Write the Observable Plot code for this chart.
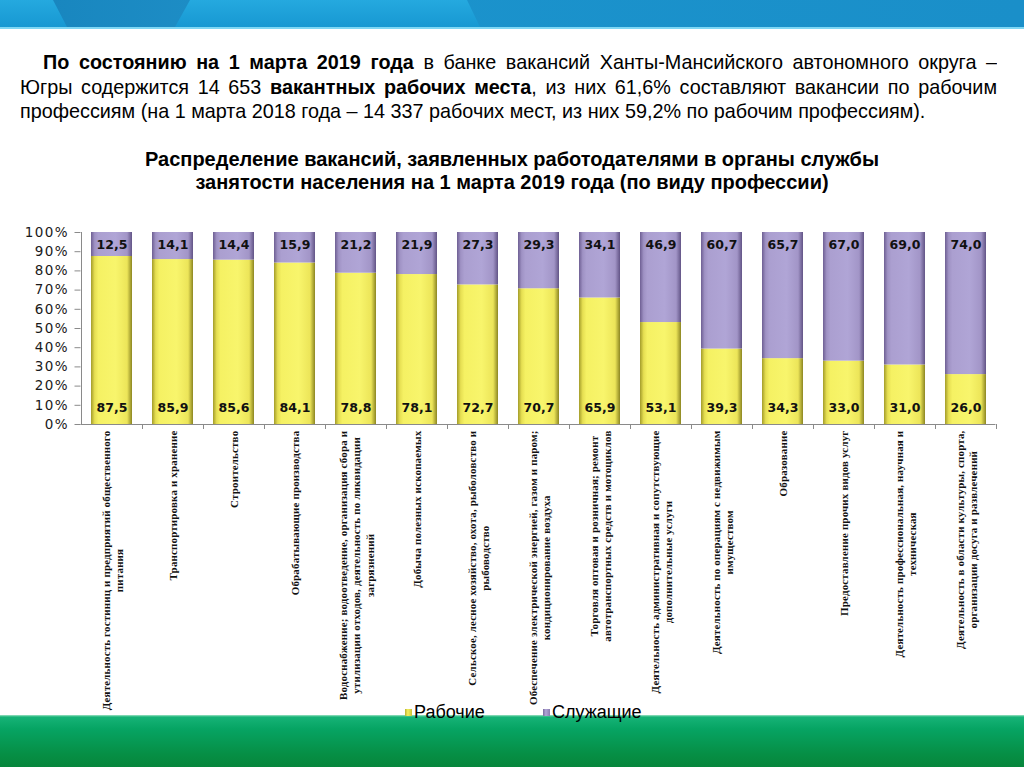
<!DOCTYPE html>
<html><head><meta charset="utf-8">
<script src="https://cdn.jsdelivr.net/npm/d3@7"></script>
<script src="https://cdn.jsdelivr.net/npm/@observablehq/plot@0.6"></script>
<style>
html,body{margin:0;padding:0;width:1024px;height:767px;overflow:hidden;background:#fff;font-family:"Liberation Sans",Arial,sans-serif;color:#000;}
.abs{position:absolute;}
#band{left:0;top:0;width:1024px;height:27px;background:linear-gradient(to bottom,#25a9df,#1798d2);}
#f1{left:0;top:0;width:1024px;height:27px;clip-path:polygon(53px 0,190px 0,175px 27px,67px 27px);background:linear-gradient(90deg,#1784bd,#2599d0 45%,#4bbde9);}
#f2{left:0;top:0;width:1024px;height:27px;clip-path:polygon(467px 0,1024px 0,1024px 27px,480px 27px);background:linear-gradient(90deg,#1b95ce,#1a8fc9);}
#bline{left:0;top:27px;width:1024px;height:2px;background:#7fd7f4;}
#green{left:0;top:715px;width:1024px;height:52px;background:linear-gradient(to bottom,#9fe3c4 0px,#16b377 2px,#06a463 14px,#068e44 40px,#07863c 52px);}
.pl{left:20px;width:977px;height:24px;line-height:24px;font-size:19.8px;white-space:nowrap;}
.just{text-align:justify;text-align-last:justify;white-space:normal;overflow:hidden;}
.tl{left:0;width:1024px;text-align:center;font-weight:bold;font-size:20px;height:23px;line-height:23px;}
#chart{left:0;top:200px;}
#legend{left:0;top:701px;width:1024px;height:22px;}
.lg{position:absolute;top:0;font-size:18px;line-height:22px;}
.sw{position:absolute;top:8px;width:7px;height:7px;}
#chart g[aria-label="y-axis tick label"] text{letter-spacing:1.4px;}
#chart text.catlab{letter-spacing:0.15px;}
</style></head><body>
<div id="band" class="abs"></div>
<div id="f1" class="abs"></div>
<div id="f2" class="abs"></div>
<div id="bline" class="abs"></div>

<div class="abs pl just" style="top:50px;left:43px;width:954px;"><b>По состоянию на 1 марта 2019 года</b> в банке вакансий Ханты-Мансийского автономного округа –</div>
<div class="abs pl just" style="top:75px;">Югры содержится 14 653 <b>вакантных рабочих места</b>, из них 61,6% составляют вакансии по рабочим</div>
<div class="abs pl" style="top:99px;">профессиям (на 1 марта 2018 года – 14 337 рабочих мест, из них 59,2% по рабочим профессиям).</div>

<div class="abs tl" style="top:148px;">Распределение вакансий, заявленных работодателями в органы службы</div>
<div class="abs tl" style="top:171px;">занятости населения на 1 марта 2019 года (по виду профессии)</div>

<div id="chart" class="abs"></div>
<div id="green" class="abs"></div>
<div id="legend" class="abs">
  <div class="sw" style="left:405px;background:linear-gradient(90deg,#b8b034,#f4ef5e 40%,#c9c23a);"></div>
  <div class="lg" style="left:414px;">Рабочие</div>
  <div class="sw" style="left:543px;background:linear-gradient(90deg,#7a6b9f,#b0a5d6 40%,#8a7cb0);"></div>
  <div class="lg" style="left:552px;">Служащие</div>
</div>

<script>
const categories = [
  "Деятельность гостиниц и предприятий общественного\nпитания",
  "Транспортировка и хранение",
  "Строительство",
  "Обрабатывающие производства",
  "Водоснабжение; водоотведение, организация сбора и\nутилизации отходов, деятельность по ликвидации\nзагрязнений",
  "Добыча полезных ископаемых",
  "Сельское, лесное хозяйство, охота, рыболовство и\nрыбоводство",
  "Обеспечение электрической энергией, газом и паром;\nкондиционирование воздуха",
  "Торговля оптовая и розничная; ремонт\nавтотранспортных средств и мотоциклов",
  "Деятельность административная и сопутствующие\nдополнительные услуги",
  "Деятельность по операциям с недвижимым\nимуществом",
  "Образование",
  "Предоставление прочих видов услуг",
  "Деятельность профессиональная, научная и\nтехническая",
  "Деятельность в области культуры, спорта,\nорганизации досуга и развлечений"
];
const workers   = [87.5, 85.9, 85.6, 84.1, 78.8, 78.1, 72.7, 70.7, 65.9, 53.1, 39.3, 34.3, 33.0, 31.0, 26.0];
const employees = [12.5, 14.1, 14.4, 15.9, 21.2, 21.9, 27.3, 29.3, 34.1, 46.9, 60.7, 65.7, 67.0, 69.0, 74.0];
const yTicks = [0, 10, 20, 30, 40, 50, 60, 70, 80, 90, 100];
const seriesNames = ["Рабочие", "Служащие"];

const rows = categories.map((c, i) => ({cat: c, w: workers[i], s: employees[i]}));
const fmt = v => v.toFixed(1).replace(".", ",");

function defs() {
  const ns = "http://www.w3.org/2000/svg";
  const d = document.createElementNS(ns, "defs");
  const mk = (id, stops) => {
    const g = document.createElementNS(ns, "linearGradient");
    g.setAttribute("id", id);
    g.setAttribute("x1", "0"); g.setAttribute("x2", "1"); g.setAttribute("y1", "0"); g.setAttribute("y2", "0");
    for (const [o, c] of stops) {
      const s = document.createElementNS(ns, "stop");
      s.setAttribute("offset", o); s.setAttribute("stop-color", c);
      g.appendChild(s);
    }
    d.appendChild(g);
  };
  mk("gy", [[0, "#a39c2a"], [0.09, "#e6df52"], [0.18, "#f5f163"], [0.6, "#f8f56c"], [0.88, "#ece559"], [1, "#8c8622"]]);
  mk("gp", [[0, "#6e5f93"], [0.09, "#9f92c4"], [0.18, "#ab9fd0"], [0.6, "#b0a5d6"], [0.88, "#a295c7"], [1, "#625486"]]);
  return d;
}

const chart = Plot.plot({
  width: 1024,
  height: 515,
  marginTop: 32,
  marginBottom: 291,
  marginLeft: 80.5,
  marginRight: 28.5,
  style: {background: "transparent", overflow: "visible"},
  x: {type: "band", domain: categories, paddingInner: 0.33, paddingOuter: 0.165, axis: null},
  y: {domain: [0, 100], axis: null, label: null},
  marks: [
    defs,
    Plot.barY(rows, {x: "cat", y1: () => 0, y2: "w", fill: "url(#gy)", title: d => seriesNames[0]}),
    Plot.barY(rows, {x: "cat", y1: "w", y2: d => d.w + d.s, fill: "url(#gp)", title: d => seriesNames[1]}),
    Plot.ruleY([0], {stroke: "#8a8a8a"}),
    Plot.ruleX([categories[0]], {x: d => d, dx: -30.5, y1: () => 0, y2: () => 100, stroke: "#8a8a8a"}),
    Plot.ruleX(categories, {x: d => d, dx: 30.5, y1: () => 0, y2: () => -2.6, stroke: "#8a8a8a"}),
    Plot.axisY({ticks: yTicks, label: null, tickFormat: d => d + "%", tickSize: 6, tickPadding: 6, fontSize: 13.5, fontFamily: "DejaVu Sans", stroke: "#8a8a8a", fill: "#1a1a1a"}),
    Plot.text(rows, {x: "cat", y: () => 0, dy: -17, text: d => fmt(d.w), fontSize: 12.5, fontWeight: "bold", fontFamily: "DejaVu Sans", fill: "#111"}),
    Plot.text(rows, {x: "cat", y: () => 100, dy: 12, text: d => fmt(d.s), fontSize: 12.5, fontWeight: "bold", fontFamily: "DejaVu Sans", fill: "#111"}),
    Plot.text(categories, {x: d => d, y: () => 0, dy: 6, text: d => d, rotate: -90, textAnchor: "middle", lineAnchor: "middle", lineHeight: 1.25, fontSize: 11, fontWeight: "bold", fontFamily: "Liberation Serif", fill: "#111"})
  ]
});
document.getElementById("chart").appendChild(chart);

// top-align each rotated category label block below the axis (lines stay centred on each other)
chart.querySelectorAll("text").forEach(t => {
  const tr = t.getAttribute("transform") || "";
  if (!tr.includes("rotate(-90)")) return;
  t.classList.add("catlab");
  const w = t.getBBox().width;
  t.setAttribute("transform", `translate(0,${(w / 2).toFixed(1)}) ` + tr);
});
</script>
</body></html>
